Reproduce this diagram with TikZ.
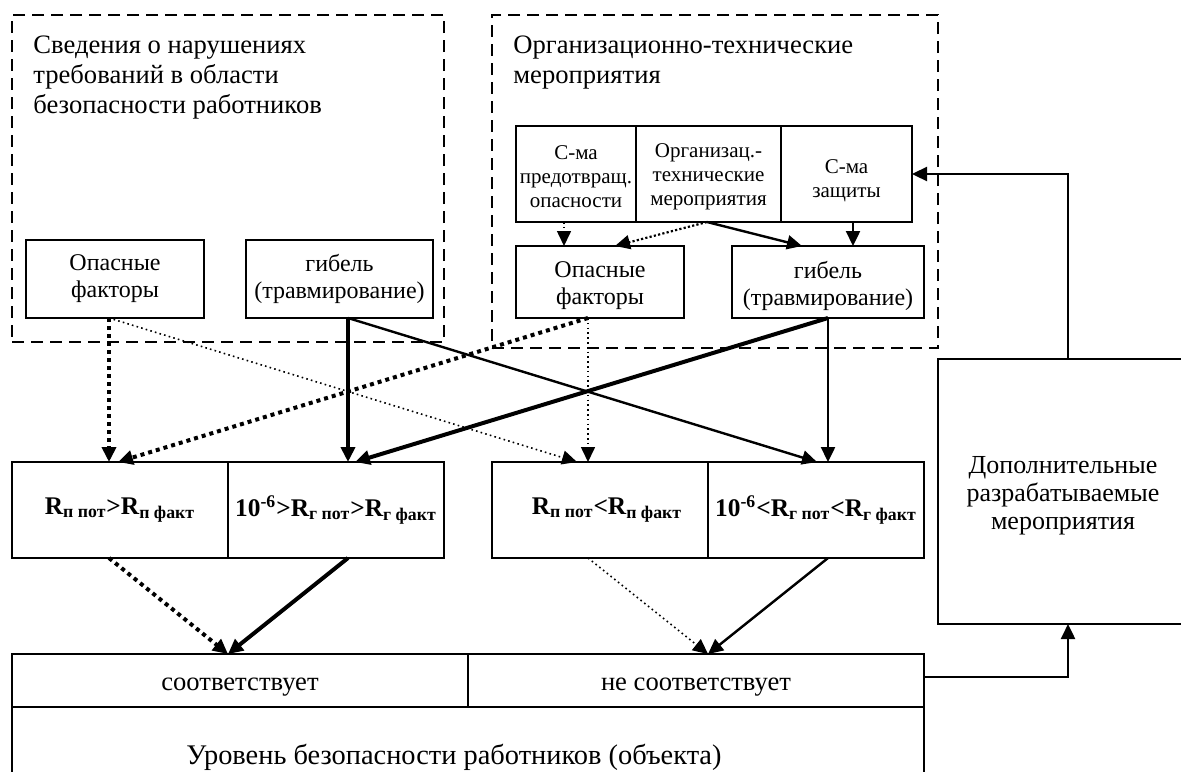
\documentclass[tikz,border=0pt]{standalone}
\usepackage{fontspec}
\setmainfont{Liberation Serif}
\usetikzlibrary{arrows.meta}
\begin{document}
\begin{tikzpicture}[x=0.5pt,y=-0.5pt,
  box/.style={draw, line width=0.9pt, inner sep=0pt, outer sep=0pt, align=center},
  txt/.style={inner sep=0pt, align=center},
  dbox/.style={draw, line width=0.9pt, dash pattern=on 6pt off 3.5pt, inner sep=0pt, outer sep=0pt},
  tip/.style={-{Triangle[length=7.5pt,width=7pt]}},
  thdot/.style={tip, line width=2pt, dash pattern=on 2pt off 2pt},
  tndot/.style={tip, line width=0.8pt, dash pattern=on 0.8pt off 1.6pt},
  mdot/.style={tip, line width=1.1pt, dash pattern=on 1.1pt off 1.1pt},
  thsol/.style={tip, line width=2pt},
  msol/.style={tip, line width=1.2pt},
  ftitle/.style={font=\fontsize{13.3}{15}\selectfont, align=left, inner sep=0pt, anchor=north west},
  fbox/.style={font=\fontsize{12}{13.5}\selectfont},
  fsmall/.style={font=\fontsize{10.5}{12}\selectfont},
  fR/.style={font=\fontsize{12.7}{15}\selectfont\bfseries},
  fbig/.style={font=\fontsize{13.3}{14}\selectfont},
]
\useasboundingbox (0,0) rectangle (1181,771);
\clip (0,0) rectangle (1181,771);

% dashed group frames
\node[dbox, minimum width=216pt, minimum height=163.5pt] (ldash) at (228,178.5) {};
\node[dbox, minimum width=223pt, minimum height=166.5pt] (rdash) at (715,181.5) {};
\node[ftitle] (ltitle) at (33,35) {Сведения о нарушениях\\требований в области\\безопасности работников};
\node[ftitle] (rtitle) at (513,35) {Организационно-технические\\мероприятия};

% left inner boxes
\node[box, fbox, minimum width=89pt, minimum height=39pt] (lop) at (115,279) {Опасные\\факторы};
\node[box, fbox, minimum width=93.5pt, minimum height=39pt] (lgib) at (339.5,279) {гибель\\(травмирование)};

% right top row
\node[box, minimum width=60pt, minimum height=48pt] (s1) at (576,174) {};
\node[box, minimum width=72.5pt, minimum height=48pt] (s2) at (708.5,174) {};
\node[box, minimum width=65.5pt, minimum height=48pt] (s3) at (846.5,174) {};
\node[txt, fsmall] (s1t) at ([yshift=-1.5pt]s1.center) {С-ма\\предотвращ.\\опасности};
\node[txt, fsmall] (s2t) at ([yshift=-1.5pt]s2.center) {Организац.-\\технические\\мероприятия};
\node[txt, fsmall] (s3t) at ([yshift=-3.5pt]s3.center) {С-ма\\защиты};

% right inner boxes
\node[box, minimum width=84pt, minimum height=36pt] (rop) at (600,282) {};
\node[box, minimum width=96pt, minimum height=36pt] (rgib) at (828,282) {};
\node[txt, fbox] (ropt) at ([yshift=-2pt]rop.center) {Опасные\\факторы};
\node[txt, fbox] (rgibt) at ([yshift=-2pt]rgib.center) {гибель\\(травмирование)};

% middle row
\node[box, fR, minimum width=108pt, minimum height=48pt] (m1) at (120,510) {R\textsubscript{п пот}>R\textsubscript{п факт}};
\node[box, fR, minimum width=108pt, minimum height=48pt] (m2) at (336,510) {10\textsuperscript{-6}>R\textsubscript{г пот}>R\textsubscript{г факт}};
\node[box, fR, minimum width=108pt, minimum height=48pt] (m3) at (600,510) {\hspace*{7pt}R\textsubscript{п пот}<R\textsubscript{п факт}};
\node[box, fR, minimum width=108pt, minimum height=48pt] (m4) at (816,510) {10\textsuperscript{-6}<R\textsubscript{г пот}<R\textsubscript{г факт}};

% bottom rows
\node[box, fbig, text height=10pt, text depth=0pt, minimum width=228pt, minimum height=26.5pt] (ok) at (240,680.5) {соответствует};
\node[box, fbig, text height=10pt, text depth=0pt, minimum width=228pt, minimum height=26.5pt] (nok) at (696,680.5) {не соответствует};
\node[box, minimum width=456pt, minimum height=50pt] (lvl) at (468,757) {};
\node[txt, font=\fontsize{14.2}{16}\selectfont, anchor=base] (lvltxt) at (454,764) {Уровень безопасности работников (объекта)};

% additional measures
\node[box, minimum width=125pt, minimum height=132.5pt] (dop) at (1063,491.5) {};
\node[txt, font=\fontsize{13}{14}\selectfont] (dopt) at ([yshift=-2pt]dop.center) {Дополнительные\\разрабатываемые\\мероприятия};

% column coordinates
\coordinate (c1) at (109,0);
\coordinate (c2) at (348,0);
\coordinate (c3) at (588,0);
\coordinate (c4) at (828,0);
\coordinate (b1) at (118,0);
\coordinate (b2) at (355,0);
\coordinate (b3) at (577,0);
\coordinate (b4) at (817,0);
\coordinate (d1) at (228,0);
\coordinate (d2) at (708,0);
\coordinate (a1) at (564,0);
\coordinate (a2) at (707,0);
\coordinate (a3) at (615,0);
\coordinate (a4) at (802,0);
\coordinate (a5) at (853,0);
\coordinate (xf) at (1068,0);
\coordinate (yf) at (0,677);

% arrows inside right frame
\draw[tndot] (s1.south -| a1) -- (rop.north -| a1);
\draw[mdot] (s2.south -| a2) -- (rop.north -| a3);
\draw[msol] (s2.south -| a2) -- (rgib.north -| a4);
\draw[msol] (s3.south -| a5) -- (rgib.north -| a5);

% cross arrows
\draw[thdot] (lop.south -| c1) -- (m1.north -| c1);
\draw[tndot] (lop.south -| c1) -- (m3.north -| b3);
\draw[thsol] (lgib.south -| c2) -- (m2.north -| c2);
\draw[msol] (lgib.south -| c2) -- (m4.north -| b4);
\draw[thdot] (rop.south -| c3) -- (m1.north -| b1);
\draw[tndot] (rop.south -| c3) -- (m3.north -| c3);
\draw[thsol] (rgib.south -| c4) -- (m2.north -| b2);
\draw[msol] (rgib.south -| c4) -- (m4.north -| c4);

% lower arrows
\draw[thdot] (m1.south -| c1) -- (ok.north -| d1);
\draw[thsol] (m2.south -| c2) -- (ok.north -| d1);
\draw[tndot] (m3.south -| c3) -- (nok.north -| d2);
\draw[msol] (m4.south -| c4) -- (nok.north -| d2);

% feedback
\draw[msol] (nok.east |- yf) -- (xf |- yf) -- (xf |- dop.south);
\draw[msol] (xf |- dop.north) -- (xf |- s3.east) -- (s3.east);
\end{tikzpicture}
\end{document}
